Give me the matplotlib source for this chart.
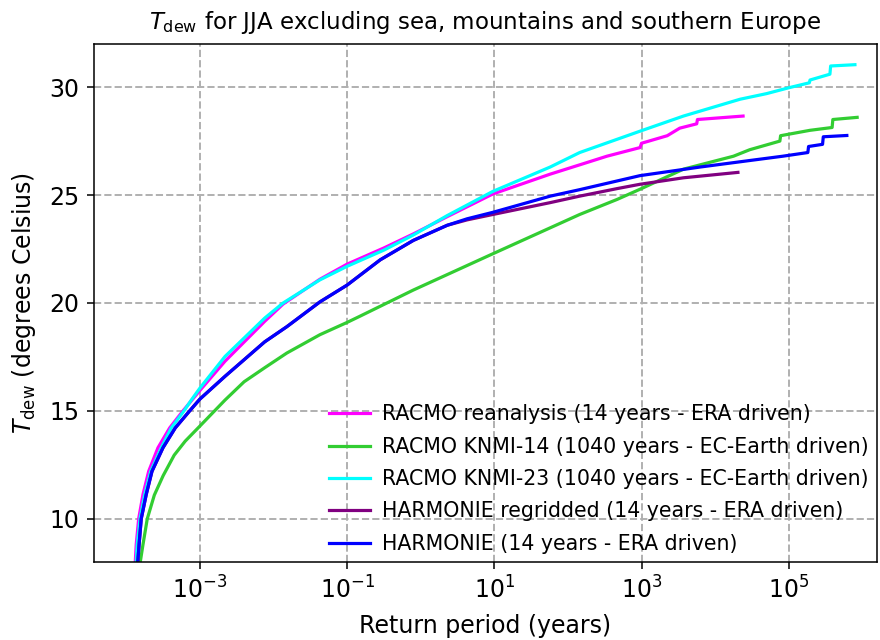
from matplotlib import pyplot as plt
from matplotlib.ticker import NullLocator
import numpy as np

# log10 of return period (years) and dew point (deg C)
racmo_era_lrp = [-3.89, -3.879, -3.866, -3.833, -3.774, -3.697, -3.571, -3.412, -3.231, -3.0, -2.66,
                 -2.12, -1.87, -1.37, -1.0, -0.5, -0.1, 0.36, 0.98, 1.76, 2.16, 2.53, 2.98, 3.0,
                 3.35, 3.52, 3.75, 3.76, 4.38]
racmo_era_t = [7.7, 8.0, 8.81, 10.0, 11.13, 12.2, 13.29, 14.21, 15.0, 15.95, 17.3,
               19.15, 19.95, 21.1, 21.8, 22.55, 23.2, 24.0, 25.05, 25.97, 26.4, 26.8, 27.2, 27.4,
               27.75, 28.1, 28.3, 28.5, 28.66]

knmi14_lrp = [-3.83, -3.811, -3.774, -3.716, -3.62, -3.5, -3.35, -3.2, -3.0, -2.66, -2.4, -2.12,
              -1.82, -1.37, -1.0, -0.83, -0.1, 0.98, 2.16, 2.67, 2.98, 3.57, 4.25, 4.47, 4.88,
              4.89, 5.29, 5.59, 5.6, 5.93]
knmi14_t = [7.7, 8.0, 8.81, 10.0, 11.1, 12.0, 12.95, 13.6, 14.3, 15.5, 16.35, 17.0,
            17.68, 18.53, 19.1, 19.38, 20.6, 22.28, 24.1, 24.8, 25.27, 26.2, 26.8, 27.1, 27.5,
            27.75, 28.0, 28.13, 28.5, 28.6]

knmi23_lrp = [-3.88, -3.866, -3.852, -3.815, -3.751, -3.67, -3.526, -3.39, -3.217, -3.118, -3.0,
              -2.66, -2.12, -1.87, -1.37, -1.0, -0.5, -0.1, 0.36, 0.98, 1.76, 2.16, 2.98, 3.57,
              4.34, 4.7, 5.0, 5.28, 5.29, 5.56, 5.57, 5.9]
knmi23_t = [7.7, 8.0, 8.81, 10.0, 11.13, 12.2, 13.29, 14.21, 15.0, 15.5, 16.06,
            17.52, 19.3, 20.0, 21.07, 21.7, 22.45, 23.15, 24.05, 25.17, 26.3, 26.97, 27.96, 28.66,
            29.44, 29.7, 29.97, 30.2, 30.33, 30.6, 30.98, 31.04]

harm_regrid_lrp = [-3.855, -3.845, -3.827, -3.798, -3.73, -3.652, -3.503, -3.336, -3.14, -3.0,
                   -2.66, -2.12, -1.82, -1.37, -1.0, -0.55, -0.1, 0.36, 0.63, 0.98, 1.76, 2.16,
                   2.67, 2.98, 3.57, 4.31]
harm_regrid_t = [7.7, 8.0, 8.81, 10.0, 11.13, 12.2, 13.29, 14.21, 15.0, 15.55,
                 16.6, 18.2, 18.9, 20.05, 20.83, 22.0, 22.9, 23.6, 23.85, 24.1, 24.65, 24.95,
                 25.3, 25.5, 25.8, 26.05]

harm_lrp = [-3.855, -3.845, -3.827, -3.798, -3.73, -3.652, -3.503, -3.336, -3.14, -3.0,
            -2.66, -2.12, -1.82, -1.37, -1.0, -0.55, -0.1, 0.36, 0.63, 0.98, 1.76, 2.16,
            2.98, 3.8, 4.47, 4.92, 5.26, 5.27, 5.46, 5.47, 5.79]
harm_t = [7.7, 8.0, 8.81, 10.0, 11.13, 12.2, 13.29, 14.21, 15.0, 15.55,
          16.6, 18.2, 18.9, 20.05, 20.83, 22.0, 22.9, 23.6, 23.9, 24.2, 24.95, 25.25,
          25.9, 26.3, 26.6, 26.8, 26.97, 27.25, 27.35, 27.7, 27.76]

series = [
    (racmo_era_lrp, racmo_era_t, '#ff00ff', 'RACMO reanalysis (14 years - ERA driven)'),
    (knmi14_lrp, knmi14_t, '#32cd32', 'RACMO KNMI-14 (1040 years - EC-Earth driven)'),
    (knmi23_lrp, knmi23_t, '#00ffff', 'RACMO KNMI-23 (1040 years - EC-Earth driven)'),
    (harm_regrid_lrp, harm_regrid_t, '#800080', 'HARMONIE regridded (14 years - ERA driven)'),
    (harm_lrp, harm_t, '#0000ff', 'HARMONIE (14 years - ERA driven)'),
]

fig = plt.figure(figsize=(8.8, 6.4), dpi=100)
ax = fig.add_axes([0.1068, 0.1219, 0.8898, 0.8094])

for lrp, t, col, lab in series:
    ax.plot(10 ** np.array(lrp), t, color=col, lw=2.3, label=lab)

ax.set_xscale('log')
ax.set_xlim(10 ** -4.44, 10 ** 6.2)
ax.set_ylim(8, 32)
ax.set_xticks([1e-3, 1e-1, 1e1, 1e3, 1e5])
ax.xaxis.set_minor_locator(NullLocator())
ax.set_yticks([10, 15, 20, 25, 30])
ax.tick_params(labelsize=17, length=5, width=1.1, pad=5.5)
for s in ax.spines.values():
    s.set_linewidth(1.1)
ax.grid(True, ls='--', color='#b0b0b0', lw=1.4)

ax.set_xlabel('Return period (years)', fontsize=17, labelpad=7.5)
ax.set_ylabel(r'$T_\mathrm{dew}$ (degrees Celsius)', fontsize=17, labelpad=8)
ax.set_title(r'$T_\mathrm{dew}$ for JJA excluding sea, mountains and southern Europe',
             fontsize=16.5, pad=11)

ax.legend(loc='lower right', frameon=False, fontsize=14.8, handlelength=2.0,
          handletextpad=0.6, labelspacing=0.6, borderpad=0.2, borderaxespad=0.2)

fig.savefig('out.png', dpi=100)
